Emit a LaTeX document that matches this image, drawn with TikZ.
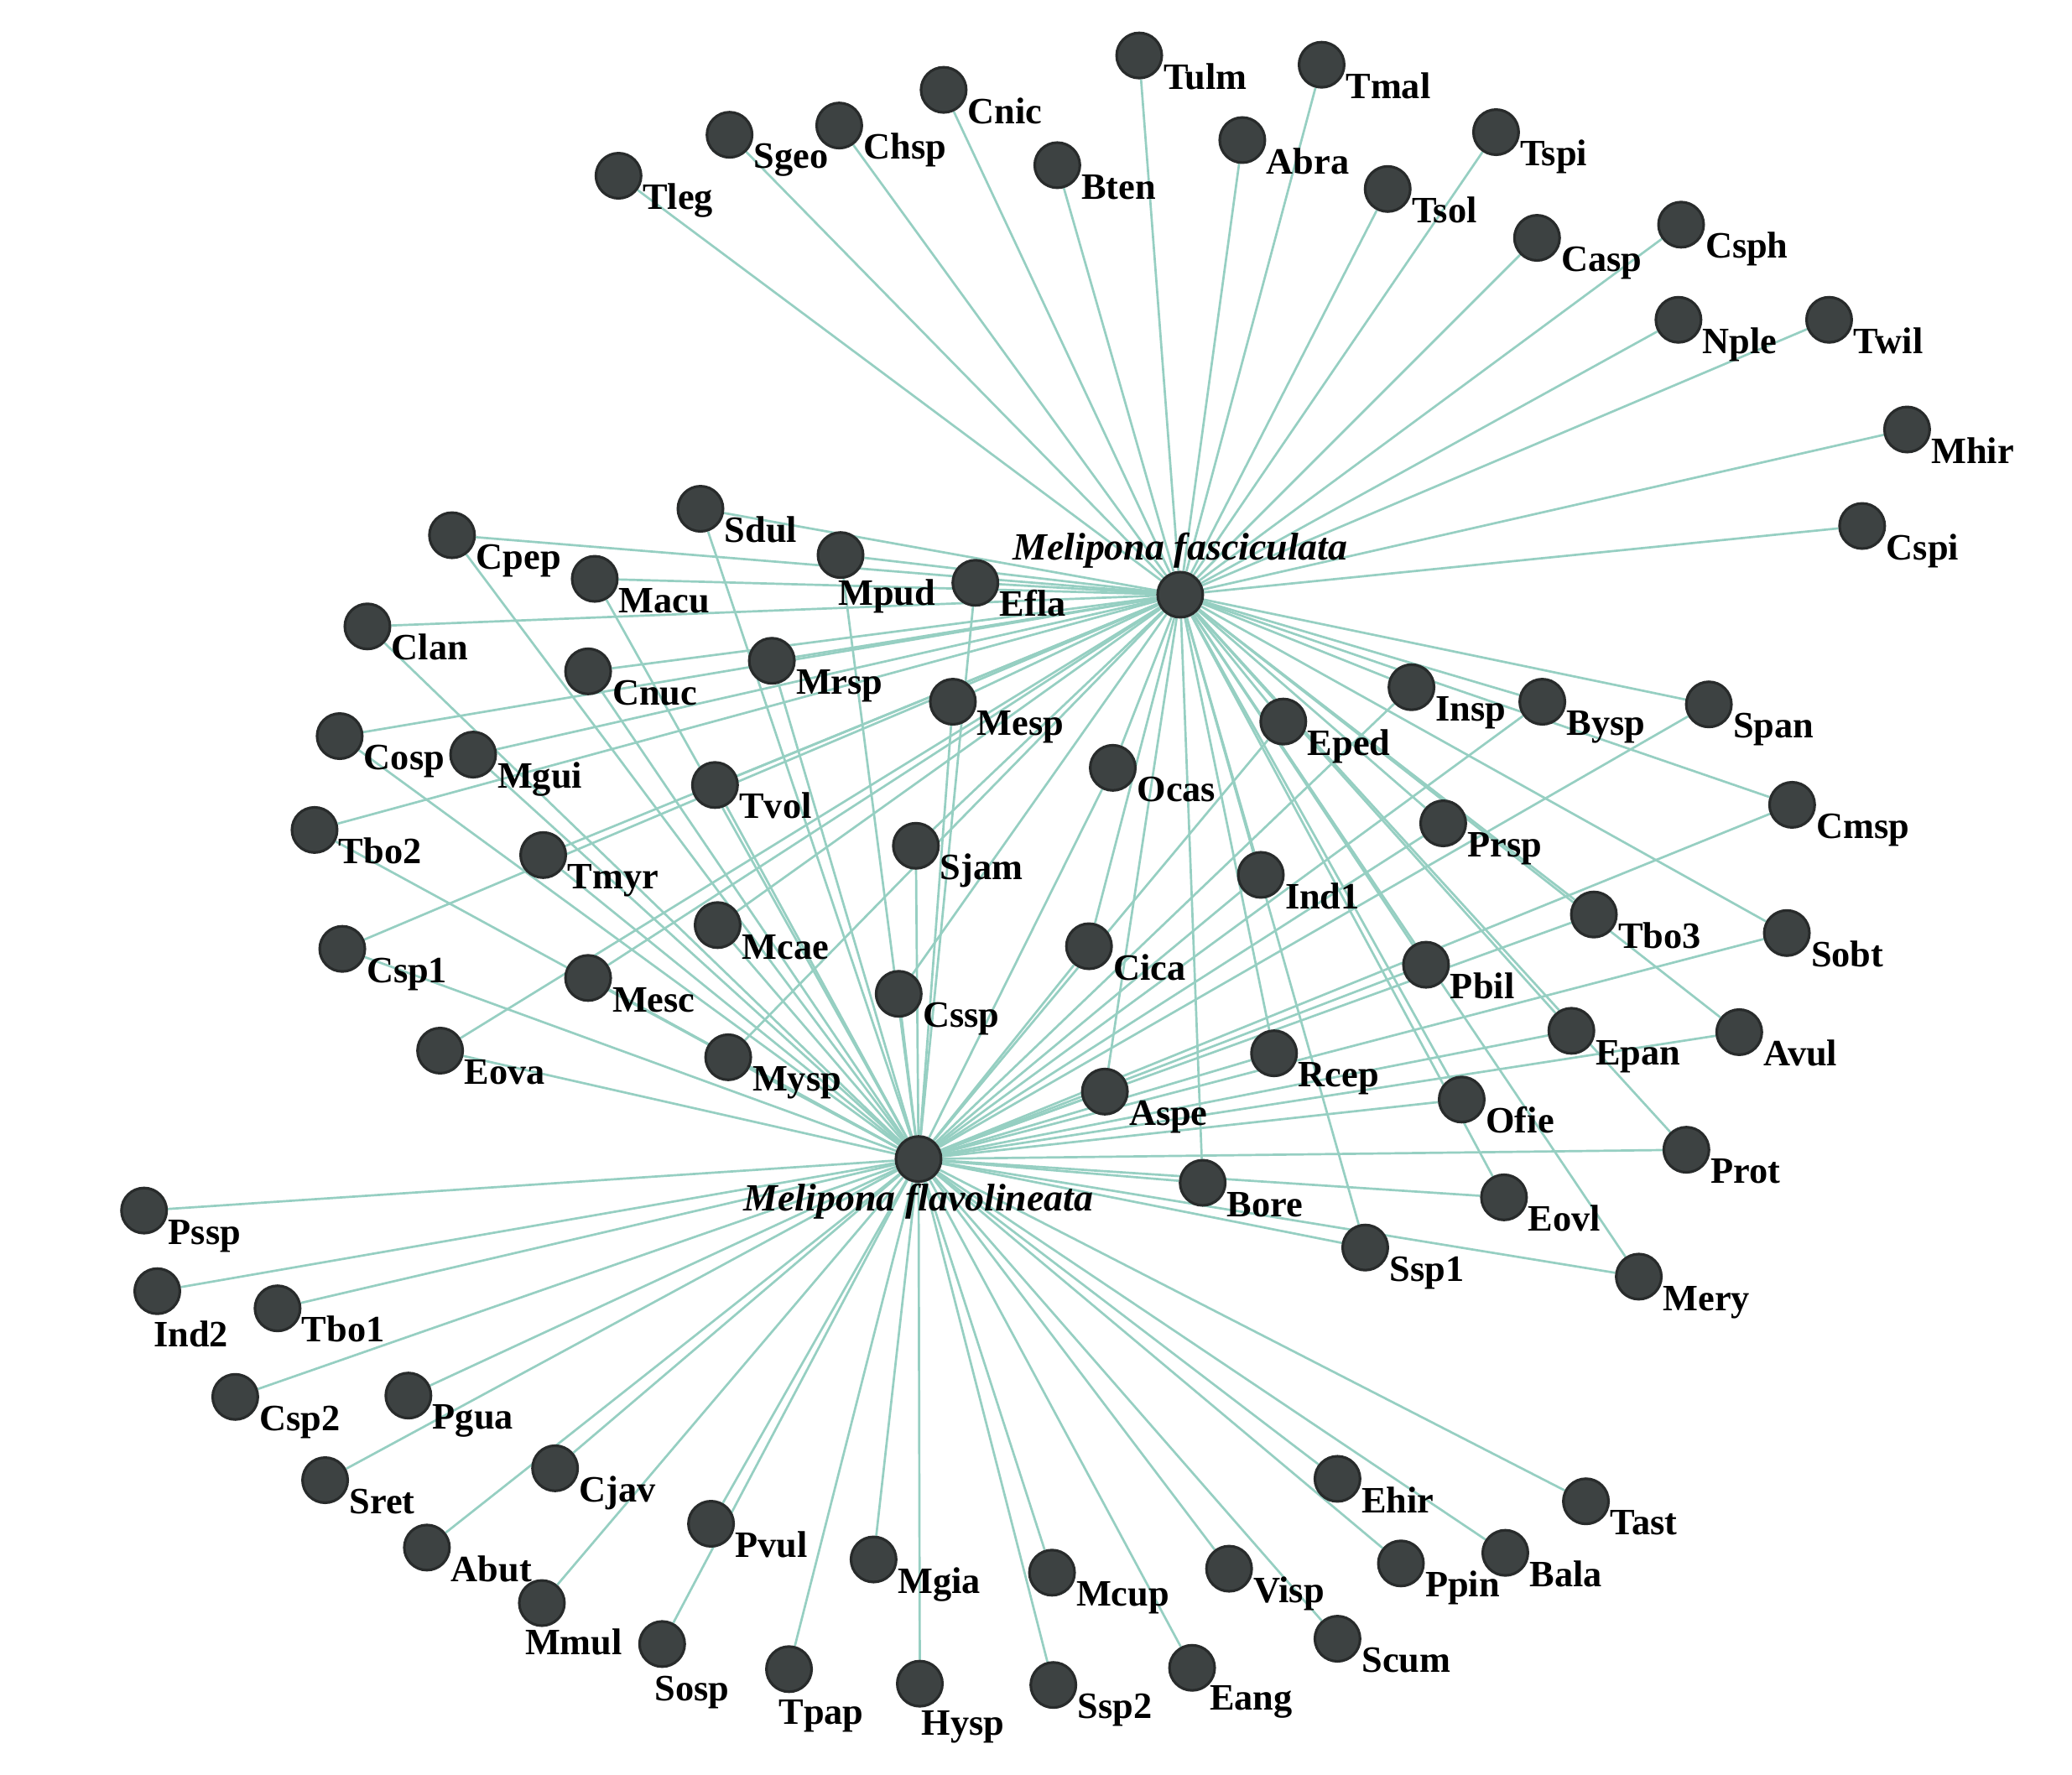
\documentclass[tikz,border=0pt]{standalone}
\usepackage{fontspec}
\setmainfont{Liberation Serif}
\pgfdeclarelayer{bg}
\pgfsetlayers{bg,main}
\definecolor{edgec}{RGB}{150,207,194}
\definecolor{nodef}{RGB}{61,66,66}
\definecolor{nodeb}{RGB}{40,43,43}
\tikzset{
  nd/.style={circle, fill=nodef, draw=nodeb, line width=1pt, minimum size=17pt, inner sep=0pt},
  lab/.style={font=\bfseries\fontsize{14}{16}\selectfont, inner sep=0pt, anchor=base west},
  hub/.style={font=\bfseries\itshape\fontsize{14.5}{17}\selectfont, inner sep=0pt, anchor=base},
  edge/.style={draw=edgec, line width=0.85pt},
}
\newcommand{\bee}[3]{\node[nd] (#1) at (#2,#3) {}; \node[lab] (#1-l) at ([shift={(18,25.5)}]#1.center) {#1};}
\newcommand{\beeo}[5]{\node[nd] (#1) at (#2,#3) {}; \node[lab] (#1-l) at ([shift={(#4,#5)}]#1.center) {#1};}
\begin{document}
\begin{tikzpicture}[x=0.4975pt, y=-0.4975pt]
\useasboundingbox (0,0) rectangle (1567.8,1342.7);
% hubs
\node[nd] (F) at (893,450) {};
\node[hub] (F-l) at ([yshift=13pt]F.center) {Melipona fasciculata};
\node[nd] (V) at (695,877) {};
\node[hub] (V-l) at ([yshift=-19.5pt]V.center) {Melipona flavolineata};
% top group
\bee{Tleg}{468}{133}
\bee{Sgeo}{552}{102}
\bee{Chsp}{635}{95}
\bee{Cnic}{714}{68}
\bee{Tulm}{862}{42}
\bee{Tmal}{1000}{49}
\bee{Bten}{800}{125}
\bee{Abra}{940}{106}
\bee{Tsol}{1050}{143}
\bee{Tspi}{1132}{100}
\bee{Casp}{1163}{180}
\bee{Csph}{1272}{170}
\bee{Nple}{1270}{242}
\bee{Twil}{1384}{242}
\bee{Mhir}{1443}{325}
\bee{Cspi}{1409}{398}
% middle group
\bee{Sdul}{530}{385}
\bee{Cpep}{342}{405}
\bee{Macu}{450}{438}
\beeo{Mpud}{636}{420}{-2}{38}
\bee{Efla}{738}{441}
\bee{Clan}{278}{474}
\bee{Cnuc}{445}{508}
\bee{Mrsp}{584}{500}
\bee{Mesp}{721}{531}
\bee{Cosp}{257}{557}
\bee{Mgui}{358}{571}
\bee{Tvol}{541}{594}
\bee{Ocas}{842}{581}
\bee{Tbo2}{238}{628}
\bee{Tmyr}{411}{647}
\bee{Sjam}{693}{640}
\bee{Mcae}{543}{700}
\bee{Csp1}{259}{718}
\bee{Mesc}{445}{740}
\bee{Cssp}{680}{752}
\bee{Cica}{824}{716}
\bee{Eova}{333}{795}
\bee{Mysp}{551}{800}
\bee{Eped}{971}{546}
\bee{Insp}{1068}{520}
\bee{Bysp}{1167}{531}
\bee{Span}{1293}{533}
\bee{Cmsp}{1356}{609}
\bee{Prsp}{1092}{623}
\bee{Ind1}{954}{662}
\bee{Tbo3}{1206}{692}
\bee{Sobt}{1352}{706}
\bee{Pbil}{1079}{730}
\bee{Epan}{1189}{780}
\bee{Avul}{1316}{781}
\bee{Rcep}{964}{797}
\bee{Aspe}{836}{826}
\bee{Ofie}{1106}{832}
\bee{Prot}{1276}{870}
\bee{Bore}{910}{895}
\bee{Eovl}{1138}{906}
\bee{Ssp1}{1033}{944}
\bee{Mery}{1240}{966}
% bottom group
\bee{Pssp}{109}{916}
\beeo{Ind2}{119}{977}{-3}{42}
\bee{Tbo1}{210}{990}
\bee{Csp2}{178}{1057}
\bee{Pgua}{309}{1056}
\bee{Sret}{246}{1120}
\bee{Cjav}{420}{1111}
\bee{Abut}{323}{1171}
\bee{Pvul}{538}{1153}
\beeo{Mmul}{410}{1213}{-13}{39}
\beeo{Sosp}{501}{1244}{-6}{43}
\bee{Mgia}{661}{1180}
\beeo{Tpap}{597}{1263}{-8}{42}
\beeo{Hysp}{696}{1274}{1}{39}
\bee{Mcup}{796}{1190}
\bee{Ssp2}{797}{1275}
\bee{Visp}{930}{1187}
\beeo{Eang}{902}{1262}{13}{32}
\bee{Ehir}{1012}{1119}
\bee{Scum}{1012}{1240}
\bee{Ppin}{1060}{1183}
\bee{Bala}{1139}{1175}
\bee{Tast}{1200}{1136}
% edges
\begin{pgfonlayer}{bg}
\fill[white] (0,0) rectangle (1567.8,1342.7);
\foreach \n in {Tleg,Sgeo,Chsp,Cnic,Tulm,Tmal,Bten,Abra,Tsol,Tspi,Casp,Csph,Nple,Twil,Mhir,Cspi,
  Sdul,Cpep,Macu,Mpud,Efla,Clan,Cnuc,Mrsp,Mesp,Cosp,Mgui,Tvol,Ocas,Tbo2,Tmyr,Sjam,Mcae,Csp1,Mesc,Cssp,Cica,Eova,Mysp,
  Eped,Insp,Bysp,Span,Cmsp,Prsp,Ind1,Tbo3,Sobt,Pbil,Epan,Avul,Rcep,Aspe,Ofie,Prot,Bore,Eovl,Ssp1,Mery}
  \draw[edge] (F) -- (\n);
\foreach \n in {Sdul,Cpep,Macu,Mpud,Efla,Clan,Cnuc,Mrsp,Mesp,Cosp,Mgui,Tvol,Ocas,Tbo2,Tmyr,Sjam,Mcae,Csp1,Mesc,Cssp,Cica,Eova,Mysp,
  Eped,Insp,Bysp,Span,Cmsp,Prsp,Ind1,Tbo3,Sobt,Pbil,Epan,Avul,Rcep,Aspe,Ofie,Prot,Bore,Eovl,Ssp1,Mery,
  Pssp,Ind2,Tbo1,Csp2,Pgua,Sret,Cjav,Abut,Pvul,Mmul,Sosp,Mgia,Tpap,Hysp,Mcup,Ssp2,Visp,Eang,Ehir,Scum,Ppin,Bala,Tast}
  \draw[edge] (V) -- (\n);
\end{pgfonlayer}
\end{tikzpicture}
\end{document}
